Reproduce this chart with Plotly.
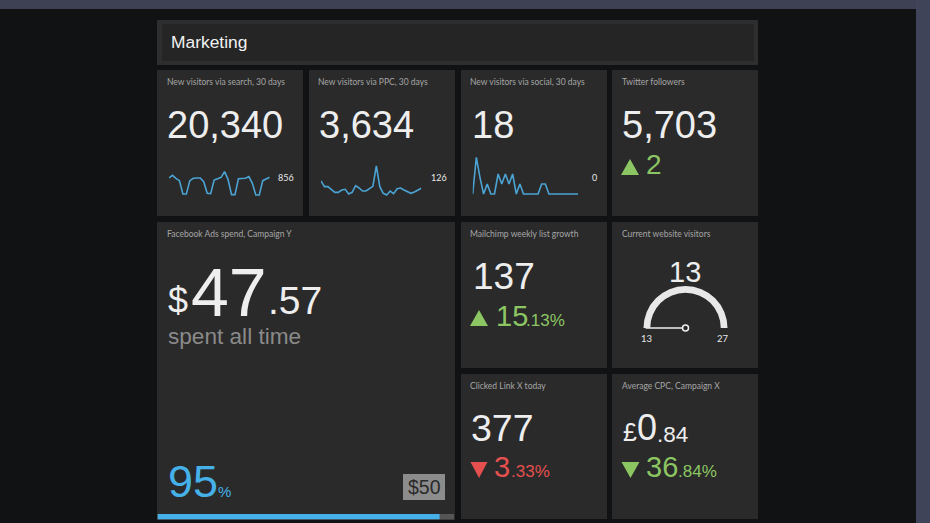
import math
import plotly.graph_objects as go

W, H = 930, 523
# ---------- data ----------
search_visits = [830,935,817,725,201,201,725,817,830,830,686,227,214,751,804,856,1079,777,175,175,804,804,817,882,620,162,162,725,804,856]
ppc_visits = [170,136,136,120,102,102,116,120,92,102,142,128,110,110,122,138,260,136,96,86,110,94,124,128,116,104,96,104,116,126]
social_visits = [0,11,5,0,3,0,0,6,3,6,3,6,0,3,0,0,0,0,0,3,3,0,0,0,0,0,0,0,0,0]
gauge_value = 13
gauge_min = 13
gauge_max = 27
spent = 47.57
budget = 50

BG, PANEL = "#111214", "#2a2a2a"
BLUE, SPARK = "#45b1e8", "#4ba3d3"
GREEN, RED = "#8cc663", "#e5504f"
SANS, SMALL = "Liberation Sans", "Lato"

def px(x): return x / W
def py(y): return 1 - y / H

fig = go.Figure()
layout_axes = {}
shapes = []
ann = []

def rect(x0, y0, x1, y1, color):
    shapes.append(dict(type="rect", xref="paper", yref="paper", layer="below",
                       x0=px(x0), x1=px(x1), y0=py(y1), y1=py(y0),
                       fillcolor=color, line_width=0))

def text(x, y, s, size, color="#eeeeee", font=SANS, anchor="left"):
    ann.append(dict(x=px(x), y=py(y), xref="paper", yref="paper", text=s, showarrow=False,
                    xanchor=anchor, yanchor="middle", borderpad=0,
                    font=dict(family=font, size=size, color=color)))

def tri(cx, y_tip, y_base, half, color):
    path = f"M {px(cx-half)} {py(y_base)} L {px(cx+half)} {py(y_base)} L {px(cx)} {py(y_tip)} Z"
    shapes.append(dict(type="path", xref="paper", yref="paper", path=path,
                       fillcolor=color, line_width=0, layer="above"))

n_axes = [0]
def axes(x0, x1, y0, y1, xr, yr):
    n_axes[0] += 1
    i = n_axes[0]
    suffix = "" if i == 1 else str(i)
    common = dict(visible=False, fixedrange=True)
    layout_axes["xaxis" + suffix] = dict(domain=[px(x0), px(x1)], range=xr, anchor="y" + suffix, **common)
    layout_axes["yaxis" + suffix] = dict(domain=[py(y1), py(y0)], range=yr, anchor="x" + suffix, **common)
    return "x" + suffix, "y" + suffix

def spark(vals, x0, x1, y0, y1, yr):
    xa, ya = axes(x0, x1, y0, y1, [0, len(vals) - 1], yr)
    fig.add_trace(go.Scatter(x=list(range(len(vals))), y=vals, mode="lines", xaxis=xa, yaxis=ya,
                             line=dict(color=SPARK, width=1.6), hoverinfo="skip"))

# ---------- background ----------
rect(0, 0, W, H, BG)
rect(0, 0, W, 9, "#3d4153")
rect(916, 0, W, H, "#3f4458")
rect(157, 20, 758, 65, "#2e2e2e")
rect(162, 24, 754, 61, "#252525")
for box in [(157,70,303,216),(309,70,455,216),(461,70,607,216),(612,70,758,216),
            (157,222,455,520),(461,222,607,368),(612,222,758,368),
            (461,374,607,519),(612,374,758,519)]:
    rect(*box, PANEL)
text(170, 42, "Marketing", 17.4, "#f2f2f2")

# ---------- row 1 ----------
TITLE = dict(size=8.5, color="#a6a6a6", font=SMALL)
text(165.5, 82.5, "New visitors via search, 30 days", **TITLE)
text(317, 82.5, "New visitors via PPC, 30 days", **TITLE)
text(469, 82.5, "New visitors via social, 30 days", **TITLE)
text(620.5, 82.5, "Twitter followers", **TITLE)
text(166, 125, "20,340", 38)
text(318, 125, "3,634", 38)
text(471, 125, "18", 38)
text(621, 125, "5,703", 38)
spark(search_visits, 169, 269.7, 160, 200, [-35, 1537])
spark(ppc_visits, 321, 421.3, 160, 200, [56, 296])
spark(social_visits, 472.7, 578, 150, 200, [-1.8, 13.2])
text(276.5, 177.5, "856", 9, "#e8e8e8", SMALL)
text(429.5, 177.5, "126", 9, "#e8e8e8", SMALL)
text(590.5, 177.5, "0", 9, "#e8e8e8", SMALL)
tri(630, 159, 175, 9, GREEN)
text(644.5, 164.5, "2", 28, GREEN)

# ---------- Facebook ----------
text(165.5, 234, "Facebook Ads spend, Campaign Y", **TITLE)
text(167, 300, "$", 36)
text(190, 292, "47", 68)
text(267, 300, ".57", 39)
text(167, 336, "spent all time", 22.6, "#8a8a8a")
text(167, 481, "95", 45, BLUE)
text(217, 491, "%", 15, BLUE)
rect(403, 474, 445, 500, "#8c8c8c")
text(424, 487, "$50", 19.5, "#2a2a2a", anchor="center")
rect(157.5, 514, 454, 519.5, "#555555")
xa, ya = axes(157.5, 454, 514, 519.5, [0, budget], [-0.5, 0.5])
fig.add_trace(go.Bar(x=[spent], y=[0], orientation="h", width=1, xaxis=xa, yaxis=ya,
                     marker=dict(color=BLUE, line_width=0), hoverinfo="skip"))

# ---------- Mailchimp ----------
text(469, 234, "Mailchimp weekly list growth", **TITLE)
text(471.5, 276.5, "137", 37)
tri(479, 310, 326, 9, GREEN)
text(494.5, 316, "15", 29, GREEN)
text(525, 320, ".13%", 17, GREEN)

# ---------- Gauge ----------
text(620.5, 234, "Current website visitors", **TITLE)
text(684.5, 272, "13", 29, anchor="center")
fig.add_trace(go.Pie(values=[gauge_max - gauge_min, gauge_max - gauge_min], hole=0.84, rotation=270, sort=False,
                     direction="clockwise", textinfo="none", hoverinfo="skip", showlegend=False,
                     domain=dict(x=[px(685.5 - 42), px(685.5 + 42)], y=[py(328 + 42), py(328 - 42)]),
                     marker=dict(colors=["#e8e8e8", "rgba(0,0,0,0)"], line_width=0)))
xa, ya = axes(643.5, 727.5, 286, 370, [-1, 1], [-1, 1])
angle = math.pi * (1 - (gauge_value - gauge_min) / (gauge_max - gauge_min))
fig.add_trace(go.Scatter(x=[math.cos(angle) * 0.95, 0], y=[math.sin(angle) * 0.95, 0], mode="lines", xaxis=xa, yaxis=ya,
                         line=dict(color="#eeeeee", width=1.5), hoverinfo="skip"))
fig.add_trace(go.Scatter(x=[0], y=[0], mode="markers", xaxis=xa, yaxis=ya, hoverinfo="skip",
                         marker=dict(size=6, color=PANEL, line=dict(color="#eeeeee", width=1.5))))
text(646.5, 338.5, str(gauge_min), 9.5, "#e8e8e8", SMALL, "center")
text(723, 338.5, str(gauge_max), 9.5, "#e8e8e8", SMALL, "center")

# ---------- Clicked ----------
text(469, 385.5, "Clicked Link X today", **TITLE)
text(470, 428, "377", 37.5)
tri(479, 478, 462, 8.5, RED)
text(493, 467, "3", 29, RED)
text(510, 471, ".33%", 17, RED)

# ---------- CPC ----------
text(620.5, 385.5, "Average CPC, Campaign X", **TITLE)
text(622, 432, "£", 25)
text(636, 427, "0", 36)
text(656, 434, ".84", 22.5)
tri(630.5, 478, 462, 9, GREEN)
text(644.5, 467, "36", 29, GREEN)
text(677, 471, ".84%", 17, GREEN)

fig.update_layout(width=W, height=H, margin=dict(l=0, r=0, t=0, b=0), showlegend=False,
                  paper_bgcolor=BG, plot_bgcolor="rgba(0,0,0,0)", shapes=shapes, annotations=ann, **layout_axes)
fig.write_html("out.html", config=dict(displayModeBar=False),
               post_script="document.body.style.margin='0';")
